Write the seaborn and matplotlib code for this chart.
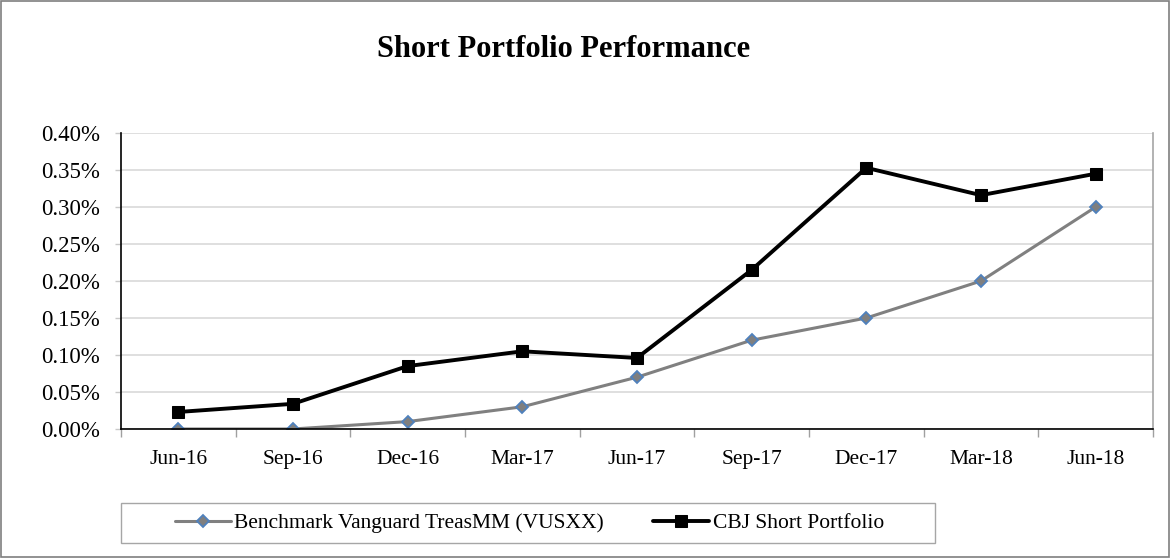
import pandas as pd
import matplotlib
matplotlib.use('Agg')
import matplotlib.pyplot as plt
import seaborn as sns
from matplotlib.ticker import FuncFormatter, FixedLocator
from matplotlib.patches import Rectangle

# Data
quarters = ['Jun-16', 'Sep-16', 'Dec-16', 'Mar-17', 'Jun-17', 'Sep-17', 'Dec-17', 'Mar-18', 'Jun-18']
benchmark = [0.0000, 0.0000, 0.0001, 0.0003, 0.0007, 0.0012, 0.0015, 0.0020, 0.0030]
cbj_short = [0.00023, 0.00034, 0.00085, 0.00105, 0.00096, 0.00215, 0.00353, 0.00316, 0.00345]
bench_label = 'Benchmark Vanguard TreasMM (VUSXX)'
cbj_label = 'CBJ Short Portfolio'

sns.set_theme(style='white')
plt.rcParams['font.family'] = ['Liberation Serif', 'DejaVu Serif']
plt.rcParams['text.color'] = 'black'

fig = plt.figure(figsize=(11.71, 5.58), dpi=100)
ax = fig.add_axes([0.1033, 0.2312, 0.8813, 0.5304])

pos = list(range(len(quarters)))
sns.lineplot(x=pos, y=benchmark, ax=ax, color='#808080', linewidth=2.2,
             marker='D', markersize=6.5, markerfacecolor='#7f7f7f',
             markeredgecolor='#4f81bd', markeredgewidth=1.3, label=bench_label)
sns.lineplot(x=pos, y=cbj_short, ax=ax, color='black', linewidth=2.8,
             marker='s', markersize=9, markerfacecolor='black',
             markeredgecolor='black', label=cbj_label)

ax.set_xlim(-0.5, len(quarters) - 0.5)
ax.set_ylim(0, 0.004)
ax.yaxis.set_major_locator(FixedLocator([i * 0.0005 for i in range(9)]))
ax.yaxis.set_major_formatter(FuncFormatter(lambda v, p: f'{v * 100:.2f}%'))
ax.set_xticks(pos)
ax.set_xticklabels(quarters)
ax.set_xticks([p - 0.5 for p in pos] + [len(quarters) - 0.5], minor=True)
ax.tick_params(axis='x', which='major', length=0, pad=15, labelsize=15.5, labelcolor='black')
ax.tick_params(axis='x', which='minor', length=6, width=1, color='#a0a0a0', bottom=True)
ax.tick_params(axis='y', which='major', length=4.5, width=1, color='#c8c8c8',
               labelsize=16.5, pad=10.5, left=True, labelcolor='black')

ax.grid(axis='y', color='#d9d9d9', linewidth=1.2)
ax.set_axisbelow(True)
for side in ['left', 'bottom']:
    ax.spines[side].set_color('black')
    ax.spines[side].set_linewidth(1.2)
ax.spines['top'].set_visible(False)
ax.spines['right'].set_color('#a6a6a6')
ax.spines['right'].set_linewidth(1.2)
ax.set_xlabel('')
ax.set_ylabel('')

# legend without its own frame; box drawn separately to match the wide padding
ax.legend(loc='center', bbox_to_anchor=(0.452, 0.0627), bbox_transform=fig.transFigure,
          ncol=2, fontsize=15.5, frameon=False,
          handlelength=2.6, handletextpad=0.15, columnspacing=2.3)
fig.patches.append(Rectangle((0.1033, 0.0269), 0.6951, 0.0717, transform=fig.transFigure,
                             fill=False, edgecolor='#a6a6a6', linewidth=1.0))

fig.text(0.481, 0.911, 'Short Portfolio Performance', ha='center', va='center',
         fontsize=22, fontweight='bold', color='black')

fig.patches.append(Rectangle((0.001, 0.002), 0.997, 0.996, transform=fig.transFigure,
                             fill=False, edgecolor='#7f7f7f', linewidth=1.2))

fig.savefig('out.png', dpi=100)
